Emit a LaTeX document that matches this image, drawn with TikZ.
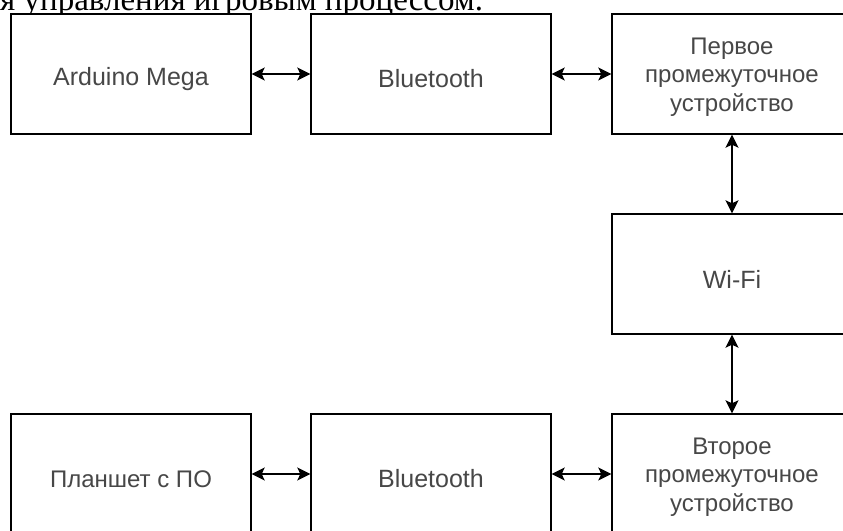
\documentclass[tikz,border=0pt]{standalone}
\usepackage{fontspec}
\setmainfont{Liberation Serif}
\newfontfamily\boxfont{Liberation Sans}
\usetikzlibrary{arrows.meta}
\tikzset{
  blockbox/.style={draw=black, line width=1.4pt, fill=white, minimum width=240pt, minimum height=120pt,
    inner sep=0pt},
  boxlabel/.style={inner sep=0pt, align=center, text=black!72, font=\boxfont\fontsize{25}{28.5}\selectfont},
  cyrlabel/.style={boxlabel, font=\boxfont\fontsize{24}{28.5}\selectfont},
  biarrow/.style={line width=1.4pt, {Stealth[length=13pt,width=13pt,inset=3pt]}-{Stealth[length=13pt,width=13pt,inset=3pt]}},
  captiontext/.style={anchor=base west, inner sep=0pt, font=\fontsize{33}{33}\selectfont}
}
\begin{document}
\begin{tikzpicture}[x=1pt,y=-1pt]
\useasboundingbox (0,0) rectangle (843,530);
\clip (0,0) rectangle (843,530);
\node[captiontext] (cap) at (0,10) {я управления игровым процессом.};
\node[blockbox] (a) at (131,74) {};
\node[blockbox] (b) at (431,74) {};
\node[blockbox] (c) at (732,74) {};
\node[blockbox] (w) at (732,274) {};
\node[blockbox] (d) at (732,474) {};
\node[blockbox] (e) at (431,474) {};
\node[blockbox] (f) at (131,474) {};
\node[boxlabel] (at) at ([yshift=-5pt]a.center) {Arduino Mega};
\node[boxlabel] (bt) at ([yshift=-5pt]b.center) {Bluetooth};
\node[cyrlabel] (ct) at ([yshift=-3pt]c.center) {Первое\\промежуточное\\устройство};
\node[boxlabel] (wt) at ([yshift=-5pt]w.center) {Wi-Fi};
\node[cyrlabel] (dt) at ([yshift=-3pt]d.center) {Второе\\промежуточное\\устройство};
\node[boxlabel] (et) at ([yshift=-5pt]e.center) {Bluetooth};
\node[cyrlabel] (ft) at ([yshift=-5pt]f.center) {Планшет с ПО};
\draw[biarrow] (a) -- (b);
\draw[biarrow] (b) -- (c);
\draw[biarrow] (c) -- (w);
\draw[biarrow] (w) -- (d);
\draw[biarrow] (f) -- (e);
\draw[biarrow] (e) -- (d);
\end{tikzpicture}
\end{document}
